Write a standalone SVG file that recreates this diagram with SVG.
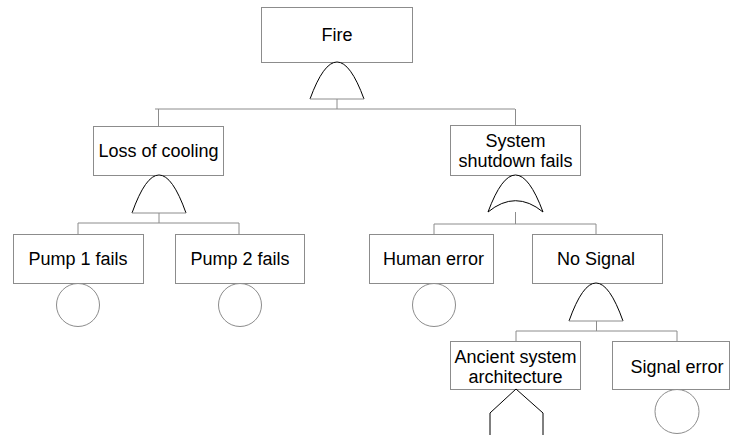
<svg xmlns="http://www.w3.org/2000/svg" width="733" height="435" viewBox="0 0 733 435">
<style>
.box{fill:#fff;stroke:#8c8c8c;stroke-width:1}
.lbl{font-family:"Liberation Sans",Arial,sans-serif;font-size:18px;fill:#000;text-anchor:middle}
.gate{fill:#fff;stroke:#000;stroke-width:1}
.base{stroke:#8c8c8c;stroke-width:1;fill:none}
.con{stroke:#8c8c8c;stroke-width:1;fill:none}
.ev{fill:#fff;stroke:#8c8c8c;stroke-width:1}
</style>
<rect width="733" height="435" fill="#fff"/>
<g id="connectors">
<path class="con" d="M337,99V109M155,109H515M158.5,109V126M515.5,109V125"/>
<path class="con" d="M159,213V223M78,223H239M78,223V234M239,223V234"/>
<path class="con" d="M515.5,212V224M434,224H596M434,224V234M596,224V234"/>
<path class="con" d="M596.5,321V331M516,331H677M516,331V341M677,331V341"/>
</g>
<g id="fire">
<rect class="box" x="261.5" y="7.5" width="151" height="55"/>
<text class="lbl" x="337" y="41">Fire</text>
</g>
<g id="fire-gate">
<path class="gate" d="M310,99Q337,25 364,99"/>
<path class="base" d="M310,99H364"/>
</g>
<g id="loss-of-cooling">
<rect class="box" x="93.5" y="126.5" width="130" height="49"/>
<text class="lbl" x="158.5" y="157">Loss of cooling</text>
</g>
<g id="loss-gate">
<path class="gate" d="M132,213Q159,137 186,213"/>
<path class="base" d="M132,213H186"/>
</g>
<g id="shutdown">
<rect class="box" x="450.5" y="125.5" width="130" height="50"/>
<text class="lbl" x="515.5" y="147">System</text>
<text class="lbl" x="515.5" y="167">shutdown fails</text>
</g>
<g id="shutdown-gate">
<path class="gate" d="M488,212Q515.5,138 543,212Q515.5,189.4 488,212Z"/>
</g>
<g id="pump1">
<rect class="box" x="13.5" y="234.5" width="130" height="49"/>
<text class="lbl" x="78" y="265">Pump 1 fails</text>
<circle class="ev" cx="78" cy="305" r="21.5"/>
</g>
<g id="pump2">
<rect class="box" x="175.5" y="234.5" width="129" height="49"/>
<text class="lbl" x="240" y="265">Pump 2 fails</text>
<circle class="ev" cx="240" cy="305" r="21.5"/>
</g>
<g id="human-error">
<rect class="box" x="369.5" y="234.5" width="124" height="49"/>
<text class="lbl" x="433.5" y="265">Human error</text>
<circle class="ev" cx="434" cy="305" r="21.5"/>
</g>
<g id="no-signal">
<rect class="box" x="532.5" y="234.5" width="130" height="49"/>
<text class="lbl" x="596" y="265">No Signal</text>
</g>
<g id="no-signal-gate">
<path class="gate" d="M569,321Q596,245 623,321"/>
<path class="base" d="M569,321H623"/>
</g>
<g id="ancient">
<rect class="box" x="450.5" y="341.5" width="130" height="48"/>
<text class="lbl" x="515.5" y="363">Ancient system</text>
<text class="lbl" x="515.5" y="383">architecture</text>
<path class="gate" d="M490,440V413L516,389L543,413V440"/>
</g>
<g id="signal-error">
<rect class="box" x="612.5" y="341.5" width="117" height="48"/>
<text class="lbl" x="677" y="373">Signal error</text>
<circle class="ev" cx="677" cy="411.5" r="22"/>
</g>
</svg>
